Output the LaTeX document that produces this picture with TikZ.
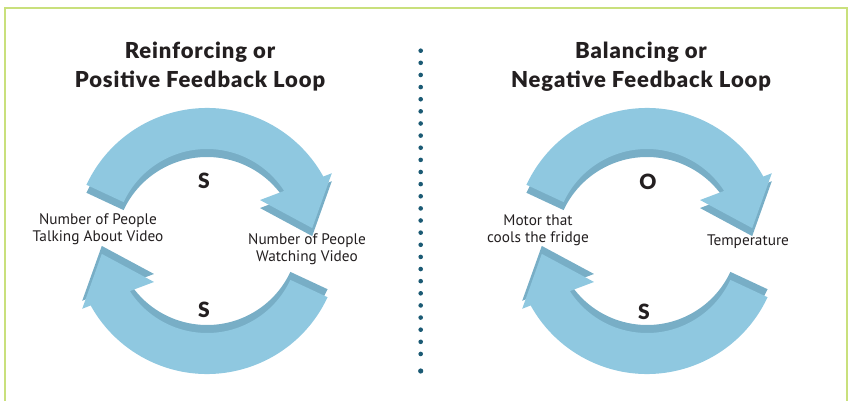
\documentclass[tikz,border=0pt]{standalone}
\usepackage{fontspec}
\setmainfont{PT Sans}
\newfontfamily\titlefont{Lato Black}[LetterSpace=4]
\usepackage{tikz}

\definecolor{loopblue}{HTML}{8FC8E0}
\definecolor{loopshade}{HTML}{78AEC6}
\definecolor{framegreen}{HTML}{C9E07C}
\definecolor{dotblue}{HTML}{1B5A74}
\definecolor{inkgray}{HTML}{231F20}

\tikzset{
  heading/.style={font=\titlefont\fontsize{22}{29}\selectfont, align=center, text=inkgray},
  varlabel/.style={font=\fontsize{15.3}{17}\selectfont, align=center, text=inkgray},
  polarity/.style={font=\titlefont\fontsize{21}{21}\selectfont, text=inkgray}
}

% one curved 3d arrow: #1 = centre of the loop, #2 = rotation
\newcommand{\feedbackarrow}[2]{%
  \begin{scope}[shift={#1}, rotate=#2]
    \fill[loopshade, yshift=-8pt] (155:133) arc[start angle=155, end angle=29, radius=133]
      -- (28.5:142) -- (7:106) -- (37.7:67) -- (33:92)
      arc[start angle=33, end angle=155, radius=92] -- cycle;
    \fill[loopblue] (155:133) arc[start angle=155, end angle=29, radius=133]
      -- (28.5:142) -- (7:106) -- (37.7:67) -- (33:92)
      arc[start angle=33, end angle=155, radius=92] -- cycle;
  \end{scope}}

\begin{document}
\begin{tikzpicture}[x=1pt, y=1pt]
  \useasboundingbox (0,0) rectangle (849,400);
  \draw[framegreen, line width=2pt] (5,-3) -- (5,392) -- (847,392) -- (847,-3);

  % reinforcing loop
  \feedbackarrow{(207,159)}{0}
  \feedbackarrow{(207,159)}{180}
  \node[heading] (titleR) at (200,333) {Reinforcing or\\Positive Feedback Loop};
  \node[polarity] (sTop) at (204,219) {S};
  \node[polarity] (sBot) at (204,90) {S};
  \node[varlabel] (talking) at (98,170.5) {Number of People\\Talking About Video};
  \node[varlabel] (watching) at (307,150.5) {Number of People\\Watching Video};

  % divider
  \foreach \i in {0,...,25}
    \fill[dotblue] (420.7,{349.3-\i*12.13}) circle (2.3);
  \fill[dotblue] (420.7,29) circle (2.6);

  % balancing loop
  \feedbackarrow{(647,159)}{0}
  \feedbackarrow{(647,159)}{180}
  \node[heading] (titleB) at (641,333) {Balancing or\\Negative Feedback Loop};
  \node[polarity] (oTop) at (648,218) {O};
  \node[polarity] (sLow) at (644,88) {S};
  \node[varlabel] (motor) at (538,169.5) {Motor that\\cools the fridge};
  \node[varlabel] (temp) at (748,158) {Temperature};
\end{tikzpicture}
\end{document}
